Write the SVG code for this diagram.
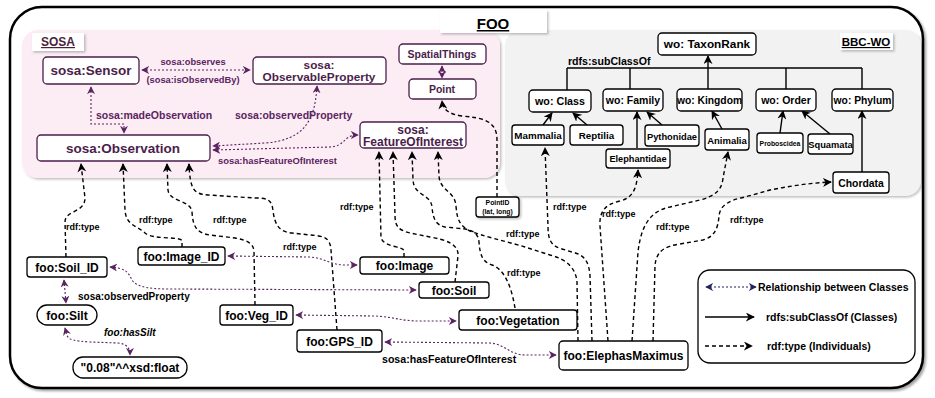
<svg xmlns="http://www.w3.org/2000/svg" width="935" height="398" viewBox="0 0 935 398">
<defs>
<filter id="sh" x="-10%" y="-10%" width="130%" height="130%"><feDropShadow dx="2" dy="2" stdDeviation="1.2" flood-color="#000" flood-opacity="0.35"/></filter>
<filter id="shs" x="-10%" y="-10%" width="130%" height="140%"><feDropShadow dx="1.5" dy="1.5" stdDeviation="0.8" flood-color="#000" flood-opacity="0.25"/></filter>
<marker id="ab" viewBox="0 0 10 10" refX="9" refY="5" markerWidth="9" markerHeight="9" markerUnits="userSpaceOnUse" orient="auto-start-reverse"><path d="M0,0 L10,5 L0,10 L3,5 z" fill="#000"/></marker>
<marker id="ap" viewBox="0 0 10 10" refX="9" refY="5" markerWidth="8" markerHeight="8" markerUnits="userSpaceOnUse" orient="auto-start-reverse"><path d="M0,0 L10,5 L0,10 L3,5 z" fill="#5a2460"/></marker>
<marker id="an" viewBox="0 0 10 10" refX="9" refY="5" markerWidth="8" markerHeight="8" markerUnits="userSpaceOnUse" orient="auto-start-reverse"><path d="M0,0 L10,5 L0,10 L3,5 z" fill="#22225e"/></marker>
</defs>
<style>
text{font-family:"Liberation Sans",Arial,sans-serif;font-weight:bold}
.n rect{fill:#fff;stroke:#000;stroke-width:1.3}
.s rect{fill:#fff;stroke:#4b1e4b;stroke-width:1.3}
.s text{fill:#4b1e4b}
.c{text-anchor:middle}
.dash{fill:none;stroke:#000;stroke-width:1.4;stroke-dasharray:4 3;marker-end:url(#ab)}
.sol{fill:none;stroke:#000;stroke-width:1.4}
.sola{fill:none;stroke:#000;stroke-width:1.4;marker-end:url(#ab)}
.dot{fill:none;stroke:#5a2460;stroke-width:1.1;stroke-dasharray:2 2;marker-end:url(#ap);marker-start:url(#ap)}
.pl{fill:#5a2460}
.lbl{font-size:9px}
.ul{text-decoration:underline}
</style>
<!-- frame -->
<rect x="10" y="7" width="913" height="381" rx="32" fill="#fff" stroke="#000" stroke-width="2.5" filter="url(#sh)"/>
<rect x="22" y="30" width="478" height="148" rx="16" fill="#fcedf5" filter="url(#shs)"/>
<rect x="505" y="30" width="416" height="166" rx="16" fill="#f2f2f2" filter="url(#shs)"/>
<g id="title"><rect x="440" y="10" width="107" height="23" fill="#fff" filter="url(#shs)"/><text x="493" y="29" class="c ul" font-size="15">FOO</text></g>
<g id="sosa-label"><rect x="32" y="33" width="52" height="18" fill="#fff" filter="url(#shs)"/><text x="58" y="46" class="c ul" font-size="12" fill="#4b1e3a">SOSA</text></g>
<g id="bbc-label"><rect x="840" y="33" width="53" height="17" fill="#fff" filter="url(#shs)"/><text x="866" y="46" class="c ul" font-size="11.5">BBC-WO</text></g>

<!-- connectors -->
<g id="connectors">
<!-- SOSA relations -->
<path class="dot" d="M142,70 L250,70"/>
<path class="dot" d="M91,87 L91,124 L124,124 L124,133"/>
<path class="dot" d="M317,86 C315,120 305,140 265,143 L213,146"/>
<path class="dot" d="M213,150 L330,147 C346,146 343,135 358,135"/>
<path class="dot" d="M442,66 L442,78"/>
<!-- subClassOf -->
<path class="sol" d="M567,68 L862,68 M567,68 L567,90 M630,68 L630,89 M786,68 L786,89 M862,68 L862,89"/>
<path class="sola" d="M708,89 L708,56"/>
<path class="sola" d="M543,125 L552,113"/>
<path class="sola" d="M587,125 L573,113"/>
<path class="sola" d="M637,148 L637,112"/>
<path class="sola" d="M662,125 L647,112"/>
<path class="sola" d="M722,129 L712,111"/>
<path class="sola" d="M780,133 L783,111"/>
<path class="sola" d="M830,134 L802,111"/>
<path class="sola" d="M862,172 L862,111"/>
<!-- rdf:type -->
<path class="dash" d="M497,197 L497,140 C497,120 482,118 462,116 C449,114 443,110 442,101"/>
<path class="dash" d="M66,257 L65,222 C65,210 85,213 85,198 L81,164"/>
<path class="dash" d="M182,247 L182,241 C182,236 152,240 145,233 C138,226 126,226 125,210 L123,164"/>
<path class="dash" d="M255,305 L254,252 C254,243 246,240 235,238 L210,235 C196,233 193,226 192,212 C191,200 169,202 168,190 L167,164"/>
<path class="dash" d="M337,330 L331,250 C330,238 325,236 310,235 L292,233 C279,232 275,225 273,211 C272,200 268,198 255,198 L208,195 C194,194 190,190 189,164"/>
<path class="dash" d="M404,257 L404,251 C404,246 385,248 381,238 L379,152"/>
<path class="dash" d="M455,282 L458,256 C459,244 446,240 430,237 L410,233 C398,230 395,226 395,215 L393,152"/>
<path class="dash" d="M515,308 C512,290 506,270 492,265 C483,262 480,256 479,242 C478,231 470,229 455,228 L445,227 C436,225 433,219 432,207 C431,194 414,196 413,180 L412,152"/>
<path class="dash" d="M578,341 L577,282 C576,268 566,259 550,255 L525,247 C505,241 482,236 470,231 C460,226 457,220 456,206 C455,191 440,191 439,176 L438,152"/>
<path class="dash" d="M592,341 L590,276 C589,262 585,255 572,252 L562,249 C551,246 548,240 548,226 L545,148"/>
<path class="dash" d="M608,341 L600,226 C599,211 606,204 620,201 C632,198 637,190 638,170"/>
<path class="dash" d="M632,341 L638,252 C641,226 650,211 670,207 L700,200 C715,196 722,190 723,178 L728,152"/>
<path class="dash" d="M653,341 L655,266 C656,251 665,246 680,244 L703,240 C714,237 718,229 719,216 C720,205 730,200 745,197 L770,190 C790,186 810,183 831,182"/>
<!-- instance relations -->
<path class="dot" d="M64,280 L66,303"/>
<path class="dot" d="M65,328 L67,335 C68,340 75,341 90,342 L118,343 C127,344 130,348 130,355"/>
<path class="dot" d="M228,256 L310,257 C325,258 330,265 345,265 L357,265"/>
<path class="dot" d="M110,267 C125,268 128,272 131,278 C134,286 145,289 170,289 L416,290"/>
<path class="dot" d="M296,315 L375,316 C395,317 400,321 420,321 L456,321"/>
<path class="dot" d="M385,342 L490,343 C505,344 510,355 525,355 L556,355"/>
</g>

<!-- connector labels -->
<g id="labels">
<text x="193" y="65" class="c pl" font-size="9.3">sosa:observes</text>
<text x="193" y="83" class="c pl" font-size="9.3">(sosa:isObservedBy)</text>
<text x="96" y="119" class="pl" font-size="10.5">sosa:madeObservation</text>
<text x="235" y="119" class="pl" font-size="10.5">sosa:observedProperty</text>
<text x="218" y="164" class="pl" font-size="9.4">sosa:hasFeatureOfInterest</text>
<text x="568" y="65" font-size="10.6">rdfs:subClassOf</text>
<text x="66" y="230" class="lbl">rdf:type</text>
<text x="139" y="223" class="lbl">rdf:type</text>
<text x="213" y="223" class="lbl">rdf:type</text>
<text x="283" y="250" class="lbl">rdf:type</text>
<text x="340" y="210" class="lbl">rdf:type</text>
<text x="506" y="237" class="lbl">rdf:type</text>
<text x="507" y="276" class="lbl">rdf:type</text>
<text x="553" y="210" class="lbl">rdf:type</text>
<text x="602" y="217" class="lbl">rdf:type</text>
<text x="656" y="230" class="lbl">rdf:type</text>
<text x="730" y="223" class="lbl">rdf:type</text>
<text x="78" y="300" font-size="10">sosa:observedProperty</text>
<text x="104" y="336" font-size="10" font-style="italic">foo:hasSilt</text>
<text x="382" y="363" font-size="10.6">sosa:hasFeatureOfInterest</text>
</g>

<!-- SOSA nodes -->
<g id="sensor" class="s"><rect x="43" y="57" width="96" height="27" rx="4"/><text x="91" y="75" class="c" font-size="13.5">sosa:Sensor</text></g>
<g id="observableproperty" class="s"><rect x="253" y="57" width="133" height="27" rx="4"/><text x="319" y="68.5" class="c" font-size="11.8">sosa:</text><text x="319" y="81" class="c" font-size="11.8">ObservableProperty</text></g>
<g id="observation" class="s"><rect x="37" y="135" width="173" height="26" rx="4"/><text x="123" y="153" class="c" font-size="13.5">sosa:Observation</text></g>
<g id="spatialthings" class="s"><rect x="399" y="44" width="87" height="20" rx="4"/><text x="442" y="58" class="c" font-size="10.5">SpatialThings</text></g>
<g id="point" class="s"><rect x="409" y="79" width="67" height="20" rx="4"/><text x="442" y="93" class="c" font-size="10.5">Point</text></g>
<g id="featureofinterest" class="s"><rect x="360" y="122" width="106" height="26" rx="4"/><text x="413" y="133.5" class="c" font-size="12">sosa:</text><text x="413" y="146" class="c" font-size="12">FeatureOfInterest</text></g>

<!-- BBC-WO nodes -->
<g id="taxonrank" class="n"><rect x="658" y="33" width="98" height="22" rx="4"/><text x="707" y="48" class="c" font-size="11.8">wo: TaxonRank</text></g>
<g id="woclass" class="n"><rect x="529" y="90" width="62" height="22" rx="4"/><text x="560" y="105" class="c" font-size="10.7">wo: Class</text></g>
<g id="wofamily" class="n"><rect x="603" y="89" width="60" height="22" rx="4"/><text x="633" y="104" class="c" font-size="10.5">wo: Family</text></g>
<g id="wokingdom" class="n"><rect x="677" y="89" width="65" height="22" rx="4"/><text x="709.5" y="104" class="c" font-size="10.3">wo: Kingdom</text></g>
<g id="woorder" class="n"><rect x="756" y="89" width="60" height="22" rx="4"/><text x="786" y="104" class="c" font-size="10.5">wo: Order</text></g>
<g id="wophylum" class="n"><rect x="832" y="89" width="61" height="22" rx="4"/><text x="862.5" y="104" class="c" font-size="10.3">wo: Phylum</text></g>
<g id="mammalia" class="n"><rect x="512" y="125" width="52" height="20" rx="3"/><text x="538" y="139" class="c" font-size="9.8">Mammalia</text></g>
<g id="reptilia" class="n"><rect x="570" y="125" width="53" height="20" rx="3"/><text x="596.5" y="139" class="c" font-size="9.8">Reptilia</text></g>
<g id="pythonidae" class="n"><rect x="645" y="125" width="54" height="21" rx="3"/><text x="672" y="139.5" class="c" font-size="9.3">Pythonidae</text></g>
<g id="elephantidae" class="n"><rect x="606" y="149" width="64" height="19" rx="3"/><text x="638" y="162" class="c" font-size="9.2">Elephantidae</text></g>
<g id="animalia" class="n"><rect x="705" y="129" width="44" height="21" rx="3"/><text x="727" y="143.5" class="c" font-size="9.5">Animalia</text></g>
<g id="proboscidea" class="n"><rect x="757" y="133" width="46" height="20" rx="3"/><text x="780" y="146" class="c" font-size="6.8">Proboscidea</text></g>
<g id="squamata" class="n"><rect x="808" y="134" width="45" height="20" rx="3"/><text x="830.5" y="147.5" class="c" font-size="9.3">Squamata</text></g>
<g id="chordata" class="n"><rect x="833" y="172" width="56" height="21" rx="3"/><text x="861" y="186.5" class="c" font-size="10.4">Chordata</text></g>

<!-- FOO instance nodes -->
<g id="pointid" class="n"><rect x="476" y="197" width="43" height="20" rx="3" filter="url(#shs)"/><text x="497.5" y="205" class="c" font-size="6.8">PointID</text><text x="497.5" y="214" class="c" font-size="6.8">(lat, long)</text></g>
<g id="soilid" class="n"><rect x="27" y="257" width="80" height="20" rx="3"/><text x="67" y="271.5" class="c" font-size="12">foo:Soil_ID</text></g>
<g id="silt" class="n"><rect x="37" y="305" width="60" height="20" rx="10"/><text x="67" y="319.5" class="c" font-size="12">foo:Silt</text></g>
<g id="float" class="n"><rect x="73" y="357" width="114" height="21" rx="10"/><text x="130" y="372" class="c" font-size="12">"0.08"^^xsd:float</text></g>
<g id="imageid" class="n"><rect x="138" y="247" width="87" height="18" rx="3"/><text x="181.5" y="260.5" class="c" font-size="12">foo:Image_ID</text></g>
<g id="vegid" class="n"><rect x="220" y="305" width="73" height="20" rx="3"/><text x="256.5" y="319.5" class="c" font-size="12">foo:Veg_ID</text></g>
<g id="gpsid" class="n"><rect x="297" y="330" width="85" height="22" rx="3"/><text x="339.5" y="345.5" class="c" font-size="12">foo:GPS_ID</text></g>
<g id="image" class="n"><rect x="360" y="257" width="89" height="17" rx="3"/><text x="404.5" y="270" class="c" font-size="12">foo:Image</text></g>
<g id="soil" class="n"><rect x="419" y="282" width="70" height="16" rx="3"/><text x="454" y="294.5" class="c" font-size="12">foo:Soil</text></g>
<g id="vegetation" class="n"><rect x="459" y="310" width="118" height="20" rx="3"/><text x="518" y="324.5" class="c" font-size="12">foo:Vegetation</text></g>
<g id="elephas" class="n"><rect x="559" y="341" width="129" height="29" rx="4"/><text x="623.5" y="360" class="c" font-size="12">foo:ElephasMaximus</text></g>

<!-- legend -->
<g id="legend">
<rect x="698" y="270" width="217" height="93" rx="12" fill="#fff" stroke="#000" stroke-width="1.3"/>
<path d="M706,287 L756,287" fill="none" stroke="#22225e" stroke-width="1.1" stroke-dasharray="2 2" marker-start="url(#an)" marker-end="url(#an)"/>
<text x="758" y="291" font-size="10.5">Relationship between Classes</text>
<path d="M705,317 L754,317" class="sola"/>
<text x="766" y="321" font-size="10.5">rdfs:subClassOf (Classes)</text>
<path d="M705,346 L752,346" class="dash"/>
<text x="767" y="350" font-size="10.5">rdf:type (Individuals)</text>
</g>
</svg>
